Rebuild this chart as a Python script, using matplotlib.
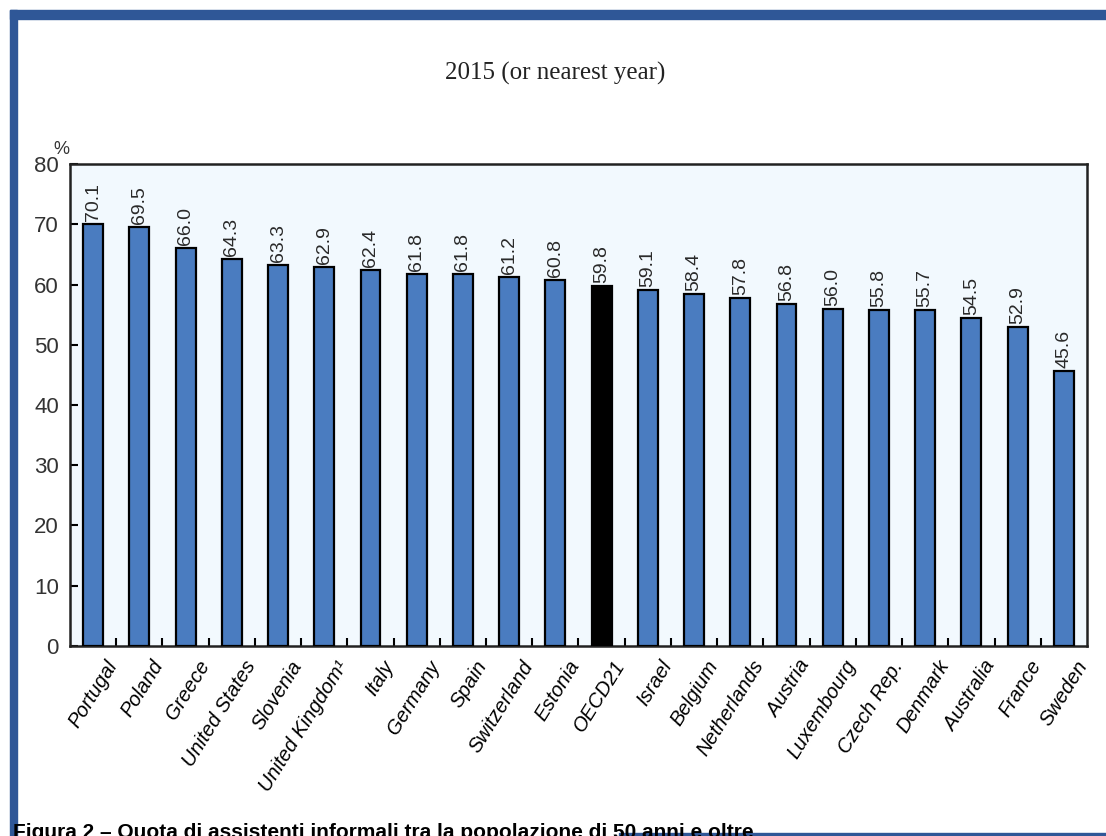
import numpy as np
import matplotlib.pyplot as plt
from matplotlib.patches import Rectangle

countries = ["Portugal", "Poland", "Greece", "United States", "Slovenia", "United Kingdom\u00b9",
             "Italy", "Germany", "Spain", "Switzerland", "Estonia", "OECD21", "Israel", "Belgium",
             "Netherlands", "Austria", "Luxembourg", "Czech Rep.", "Denmark", "Australia",
             "France", "Sweden"]
share = [70.1, 69.5, 66.0, 64.3, 63.3, 62.9, 62.4, 61.8, 61.8, 61.2, 60.8, 59.8, 59.1, 58.4,
         57.8, 56.8, 56.0, 55.8, 55.7, 54.5, 52.9, 45.6]
y_ticks = [0, 10, 20, 30, 40, 50, 60, 70, 80]

bar_blue = "#4a7cc0"
frame_blue = "#2f5797"
colors = ["black" if c == "OECD21" else bar_blue for c in countries]

fig = plt.figure(figsize=(11.06, 8.36), dpi=100)
fig.patch.set_facecolor("white")

# blue frame around the figure
fig.add_artist(Rectangle((0.009, 0.977), 0.991, 0.011, transform=fig.transFigure,
                         color=frame_blue, zorder=0))
fig.add_artist(Rectangle((0.009, 0.0), 0.006, 0.988, transform=fig.transFigure,
                         color=frame_blue, zorder=0))
fig.add_artist(Rectangle((0.56, 0.0), 0.44, 0.004, transform=fig.transFigure,
                         color=frame_blue, zorder=0))

ax = fig.add_axes([0.0633, 0.2273, 0.9195, 0.5765])
ax.set_facecolor("#f2f9fe")

x = np.arange(len(countries))
ax.bar(x, share, width=0.43, color=colors, edgecolor="black", linewidth=1.6, zorder=3)

for xi, v in zip(x, share):
    ax.text(xi, v + 0.5, f"{v:.1f}", rotation=90, ha="center", va="bottom",
            fontsize=14, family="Liberation Sans", color="#2a2a2a", zorder=4)

ax.set_xlim(-0.5, len(countries) - 0.5)
ax.set_ylim(0, 80)
ax.set_yticks(y_ticks)
ax.set_yticklabels([str(t) for t in y_ticks], family="Liberation Sans",
                   fontsize=16, color="#333333")
ax.tick_params(axis="y", direction="in", length=6, width=1.5, pad=8)

ax.set_xticks(x + 0.25)
ax.set_xticklabels(countries, rotation=58, ha="right", rotation_mode="anchor",
                   fontsize=14.5, style="italic", family="Liberation Sans")
ax.tick_params(axis="x", length=0, pad=8)
ax.set_xticks(x[:-1] + 0.5, minor=True)
ax.tick_params(axis="x", which="minor", direction="in", length=6, width=1.5)

for s in ax.spines.values():
    s.set_linewidth(1.8)
    s.set_color("#222222")

ax.text(-0.016, 1.012, "%", transform=ax.transAxes, ha="left", va="bottom",
        fontsize=13, family="Liberation Sans", color="#333333")

fig.text(0.502, 0.912, "2015 (or nearest year)", ha="center", va="center",
         fontsize=18, family="Liberation Serif", color="#222222")

fig.text(0.012, -0.007, "Figura 2 \u2013 Quota di assistenti informali tra la popolazione di 50 anni e oltre",
         ha="left", va="bottom", fontsize=15, fontweight="bold", family="Liberation Sans",
         color="black")

fig.savefig("out.png", dpi=100)
